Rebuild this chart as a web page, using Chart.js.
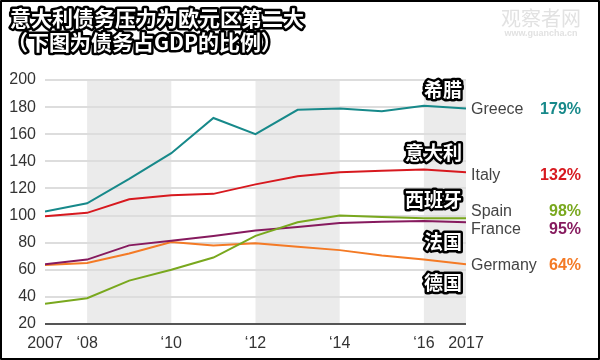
<!DOCTYPE html>
<html lang="zh">
<head>
  <meta charset="UTF-8" />
  <title>意大利债务压力为欧元区第二大</title>
  <script src="https://cdn.jsdelivr.net/npm/chart.js"></script>
  <style>
    body { margin: 0; background: #fff; }
    canvas { display: block; }
  </style>
</head>
<body>
  <canvas id="debtChart" width="600" height="360"></canvas>

  <script>
    // 数据 (债务占GDP %)
    const years = [2007, 2008, 2009, 2010, 2011, 2012, 2013, 2014, 2015, 2016, 2017];
    const greece  = [103, 109, 127, 146, 172, 160, 178, 179, 177, 181, 179];
    const italy   = [99.5, 102, 112, 115, 116, 123, 129, 132, 133, 134, 132];
    const spain   = [35, 39, 52, 60, 69, 85, 95, 100, 99, 98, 98];
    const france  = [64, 67.5, 78, 81.5, 85, 89, 91.5, 94.5, 95.5, 96, 95];
    const germany = [63.5, 65, 72, 80.5, 78, 79.5, 77, 74.5, 70.5, 67.5, 64];

    const countries = ['Greece', 'Italy', 'Spain', 'France', 'Germany'];
    const countriesZh = ['希腊', '意大利', '西班牙', '法国', '德国'];
    const colors = ['#17898a', '#d7191f', '#79a81e', '#861a5e', '#f47a25'];
    const xTickLabels = ['2007', '\u201808', '', '\u201810', '', '\u201812', '', '\u201814', '', '\u201816', '2017'];
    const yTicks = [20, 40, 60, 80, 100, 120, 140, 160, 180, 200];
    const shadedBands = [[2008, 2010], [2012, 2014], [2016, 2017]];

    const series = [greece, italy, spain, france, germany];

    // 灰色背景条
    const bandsPlugin = {
      id: 'bands',
      beforeDraw(chart) {
        const { ctx, chartArea, scales } = chart;
        ctx.save();
        ctx.fillStyle = '#ebebeb';
        shadedBands.forEach(b => {
          const x1 = scales.x.getPixelForValue(b[0]);
          const x2 = scales.x.getPixelForValue(b[1]);
          ctx.fillRect(x1, chartArea.top, x2 - x1, chartArea.bottom - chartArea.top);
        });
        ctx.restore();
      }
    };

    function outlinedText(ctx, text, x, y, size, align) {
      ctx.font = 'bold ' + size + 'px "Noto Sans CJK SC", sans-serif';
      ctx.textAlign = align;
      ctx.textBaseline = 'middle';
      ctx.lineJoin = 'round';
      ctx.lineWidth = 5;
      ctx.strokeStyle = '#000';
      ctx.strokeText(text, x, y);
      ctx.fillStyle = '#fff';
      ctx.fillText(text, x, y);
    }

    // 标题、标注、边框
    const textPlugin = {
      id: 'texts',
      afterDraw(chart) {
        const ctx = chart.ctx;
        ctx.save();

        // 水印
        ctx.fillStyle = '#e2e2e2';
        ctx.textAlign = 'center';
        ctx.textBaseline = 'middle';
        ctx.font = '20px "Noto Sans CJK SC", sans-serif';
        ctx.fillText('观察者网', 541, 18);
        ctx.font = 'bold 9px "Liberation Sans", Arial, sans-serif';
        ctx.fillText('www.guancha.cn', 541, 34);

        outlinedText(ctx, '意大利债务压力为欧元区第二大', 10, 18, 21, 'left');
        outlinedText(ctx, '（下图为债务占GDP的比例）', 7, 42, 21, 'left');

        const zhY = [90, 153, 200, 242, 283];
        countriesZh.forEach((t, i) => outlinedText(ctx, t, 462, zhY[i], 19, 'right'));

        const labelY = [110, 176, 212, 230, 266];
        countries.forEach((name, i) => {
          ctx.textBaseline = 'middle';
          ctx.textAlign = 'left';
          ctx.fillStyle = '#444';
          ctx.font = '16px "Liberation Sans", Arial, sans-serif';
          ctx.fillText(name, 471, labelY[i]);
          ctx.textAlign = 'right';
          ctx.fillStyle = colors[i];
          ctx.font = 'bold 16px "Liberation Sans", Arial, sans-serif';
          const last = series[i][series[i].length - 1];
          ctx.fillText(Math.round(last) + '%', 581, labelY[i]);
        });

        ctx.strokeStyle = '#000';
        ctx.lineWidth = 2;
        ctx.strokeRect(1, 1, 598, 358);
        ctx.restore();
      }
    };

    const ctx = document.getElementById('debtChart').getContext('2d');
    new Chart(ctx, {
      type: 'line',
      data: {
        datasets: countries.map((name, i) => ({
          label: name,
          data: years.map((y, j) => ({ x: y, y: series[i][j] })),
          borderColor: colors[i],
          borderWidth: 2,
          pointRadius: 0,
          tension: 0,
          fill: false
        }))
      },
      options: {
        responsive: false,
        animation: false,
        layout: { padding: { left: 0, top: 80, right: 134, bottom: 0 } },
        plugins: {
          legend: { display: false },
          tooltip: { enabled: false }
        },
        scales: {
          x: {
            type: 'linear',
            min: 2007,
            max: 2017,
            afterFit(scale) { scale.height = 36; },
            grid: { display: false, drawTicks: false },
            border: { display: false },
            afterBuildTicks(scale) {
              scale.ticks = years.map(v => ({ value: v }));
            },
            ticks: {
              autoSkip: false,
              maxRotation: 0,
              padding: 10,
              color: '#333',
              font: { family: '"Liberation Sans", Arial, sans-serif', size: 16 },
              callback: (v) => xTickLabels[years.indexOf(v)]
            }
          },
          y: {
            min: 20,
            max: 200,
            afterFit(scale) { scale.width = 45; },
            afterBuildTicks(scale) {
              scale.ticks = yTicks.map(v => ({ value: v }));
            },
            border: { display: false },
            grid: {
              drawTicks: false,
              lineWidth: 2,
              color: (c) => c.tick && c.tick.value === 20 ? '#555' : '#dddddd'
            },
            ticks: {
              padding: 9,
              color: '#333',
              font: { family: '"Liberation Sans", Arial, sans-serif', size: 16 }
            }
          }
        }
      },
      plugins: [bandsPlugin, textPlugin]
    });
  </script>
</body>
</html>
